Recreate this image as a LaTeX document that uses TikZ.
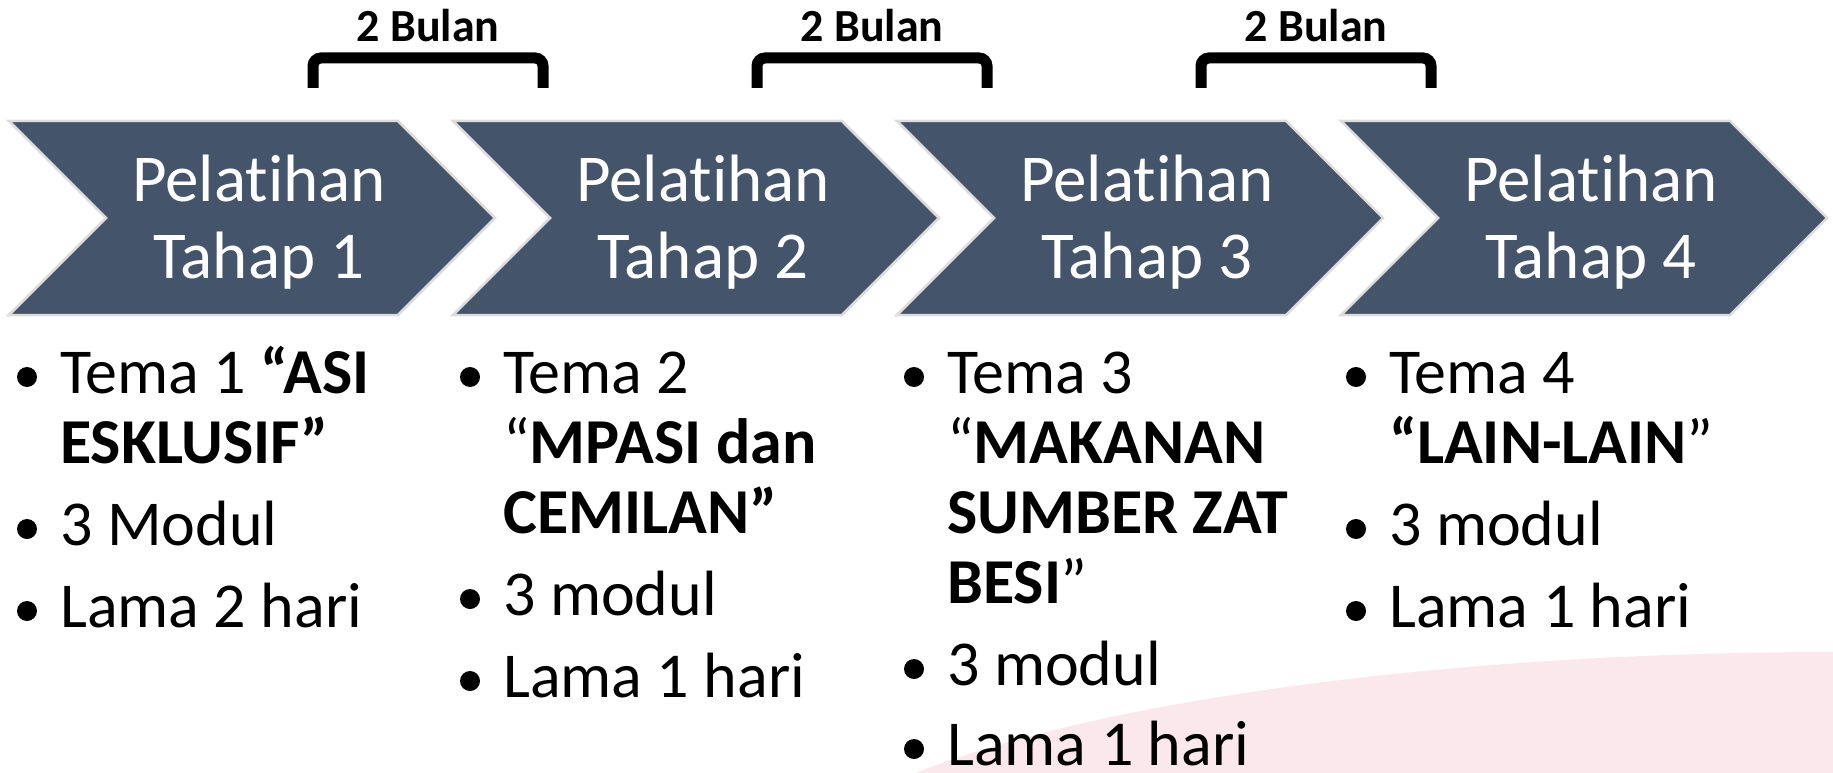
\documentclass[tikz,border=0pt]{standalone}
\usepackage{fontspec}
\setmainfont{Carlito}[Ligatures={NoCommon}]
\usetikzlibrary{calc}
\definecolor{slate}{HTML}{44546A}
\definecolor{rim}{HTML}{DCDCDC}
\definecolor{blush}{HTML}{FAE8EC}
\tikzset{
  stage/.style={fill=slate, draw=rim, line width=2.5pt, line join=miter},
  stagetext/.style={text=white, align=center, inner sep=0pt, font=\fontsize{67}{77}\selectfont},
  span/.style={draw=black, line width=11pt, rounded corners=8pt},
  spanlab/.style={anchor=base, inner sep=0pt, font=\bfseries\fontsize{46}{50}\selectfont},
  item/.style={anchor=base west, inner sep=0pt, font=\fontsize{64}{70}\selectfont},
  dot/.style={circle, fill=black, inner sep=0pt, minimum size=20pt},
}

\begin{document}
\begin{tikzpicture}[x=1pt,y=-1pt]
  \useasboundingbox (0,0) rectangle (1833,773);
  % pink backdrop, bottom right
  \fill[blush] (915,773) .. controls (1100,700) and (1450,652) .. (1833,652) -- (1833,773) -- cycle;

  % the four chevrons
  \foreach \k in {1,...,4}{
    \pgfmathsetmacro{\L}{9+444*(\k-1)}
    \draw[stage] (\L,121) -- ++(389,0) -- ++(97,97) -- ++(-97,97) -- ++(-389,0) -- ++(97,-97) -- cycle;
    \node[stagetext] (stage\k) at (\L+250,222) {Pelatihan\\Tahap \k};
  }

  % brackets between stages
  \foreach \k in {1,2,3}{
    \pgfmathsetmacro{\B}{313+444*(\k-1)}
    \draw[span] (\B,88) -- (\B,58) -- (\B+230,58) -- (\B+230,88);
    \node[spanlab] (gap\k) at (\B+115,42) {2 Bulan};
  }

  % bullets
  \foreach \x/\y [count=\i] in {27/393,27/545,27/627,470/393,470/615,470/697,914/393,914/685,914/765,1356/393,1356/545,1356/627}
    \node[dot] (dot\i) at (\x,\y-16) {};

  % column 1
  \node[item] (t1a) at (60,393) {Tema 1 \textbf{“ASI}};
  \node[item] (t1b) at (60,463) {\textbf{ESKLUSIF”}};
  \node[item] (t1c) at (60,545) {3 Modul};
  \node[item] (t1d) at (60,627) {Lama 2 hari};
  % column 2
  \node[item] (t2a) at (503,393) {Tema 2};
  \node[item] (t2b) at (503,463) {“\textbf{MPASI dan}};
  \node[item] (t2c) at (503,533) {\textbf{CEMILAN”}};
  \node[item] (t2d) at (503,615) {3 modul};
  \node[item] (t2e) at (503,697) {Lama 1 hari};
  % column 3
  \node[item] (t3a) at (947,393) {Tema 3};
  \node[item] (t3b) at (947,463) {“\textbf{MAKANAN}};
  \node[item] (t3c) at (947,533) {\textbf{SUMBER ZAT}};
  \node[item] (t3d) at (947,603) {\textbf{BESI}”};
  \node[item] (t3e) at (947,685) {3 modul};
  \node[item] (t3f) at (947,765) {Lama 1 hari};
  % column 4
  \node[item] (t4a) at (1389,393) {Tema 4};
  \node[item] (t4b) at (1389,463) {\textbf{“LAIN-LAIN}”};
  \node[item] (t4c) at (1389,545) {3 modul};
  \node[item] (t4d) at (1389,627) {Lama 1 hari};
\end{tikzpicture}
\end{document}
